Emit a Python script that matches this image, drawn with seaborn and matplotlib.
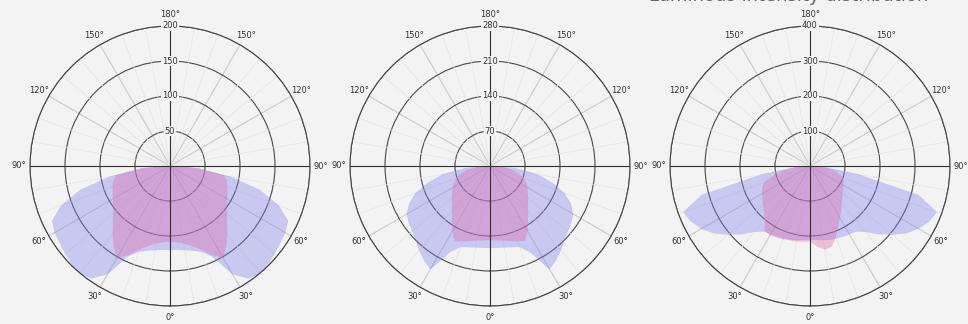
import matplotlib
matplotlib.use("Agg")
import matplotlib.pyplot as plt
import seaborn as sns
import numpy as np

# ── Data (cd/klm) ─────────────────────────────────────────────────────────────
GAMMA = [0, 5, 10, 15, 20, 25, 30, 35, 40, 45, 50, 55, 60, 65, 70, 75, 80, 85, 90]

RTICKS_1 = [50, 100, 150, 200]
RTICKS_2 = [70, 140, 210, 280]
RTICKS_3 = [100, 200, 300, 400]

# panel 1
BLUE_1 = [120, 120, 122, 125, 130, 142, 178, 196, 200, 198, 195, 192, 190, 186, 165, 133, 87, 40, 5]
PINK_1 = [108, 109, 112, 118, 126, 140, 152, 140, 127, 115, 106, 99, 94, 90, 87, 84, 78, 42, 5]

# panel 2
BLUE_2 = [164, 164, 165, 168, 172, 190, 238, 230, 220, 210, 203, 198, 192, 178, 158, 128, 95, 50, 5]
PINK_2 = [148, 149, 151, 155, 160, 165, 150, 132, 118, 107, 99, 92, 86, 80, 72, 60, 45, 25, 5]

# panel 3 (pink curve differs left / right)
BLUE_3 = [210, 212, 215, 218, 220, 222, 225, 228, 245, 275, 305, 335, 358, 375, 385, 320, 140, 45, 5]
PINK_3_L = [215, 216, 218, 220, 222, 225, 228, 225, 200, 185, 175, 165, 158, 150, 140, 110, 75, 35, 5]
PINK_3_R = [215, 230, 242, 238, 215, 190, 170, 155, 140, 130, 120, 115, 110, 105, 100, 85, 65, 35, 5]

ANGLE_TICKS = [0, 30, 60, 90, 120, 150, 180, 210, 240, 270, 300, 330]
ANGLE_LABELS = ["0°", "30°", "60°", "90°", "120°", "150°", "180°",
                "150°", "120°", "90°", "60°", "30°"]

TITLE = "Luminous intensity distribution"

BG = "#f3f3f3"
BLUE = "#7c7cec"
PINK = "#e070b4"

sns.set_theme(style="white")
plt.rcParams["font.family"] = ["DejaVu Sans"]

fig = plt.figure(figsize=(9.68, 3.24), dpi=100, facecolor=BG)

W, H = 968, 324
R_PX = 140
CENTERS = [170, 490, 810]
CY = 166


def closed_curve(right, left):
    """Right side gamma 90 -> 0, then left side 0 -> 90 (theta = 360 - gamma)."""
    g = np.array(GAMMA, dtype=float)
    th = np.concatenate([np.deg2rad(g[::-1]), np.deg2rad(360 - g[1:])])
    r = np.concatenate([np.array(right, float)[::-1], np.array(left, float)[1:]])
    th = np.concatenate([[np.deg2rad(90)], th, [np.deg2rad(270)]])
    r = np.concatenate([[0], r, [0]])
    return th, r


panels = [
    (RTICKS_1, BLUE_1, BLUE_1, PINK_1, PINK_1),
    (RTICKS_2, BLUE_2, BLUE_2, PINK_2, PINK_2),
    (RTICKS_3, BLUE_3, BLUE_3, PINK_3_R, PINK_3_L),
]

for cx, (rticks, b_r, b_l, p_r, p_l) in zip(CENTERS, panels):
    rect = [(cx - R_PX) / W, (H - CY - R_PX) / H, 2 * R_PX / W, 2 * R_PX / H]
    ax = fig.add_axes(rect, projection="polar")
    ax.set_facecolor(BG)
    ax.set_theta_zero_location("S")
    rmax = rticks[-1]

    # faint minor radial lines every 10 deg
    for a in range(0, 360, 10):
        if a % 30:
            ax.plot([np.deg2rad(a)] * 2, [0, rmax], color="#e4e4e4", lw=0.5, zorder=1)

    # filled intensity curves
    th, r = closed_curve(b_r, b_l)
    ax.fill(th, r, color=BLUE, alpha=0.36, lw=0, zorder=2)
    sns.lineplot(x=th, y=r, sort=False, ax=ax, color=BLUE, lw=0.3, alpha=0.25, zorder=2)
    th, r = closed_curve(p_r, p_l)
    ax.fill(th, r, color=PINK, alpha=0.4, lw=0, zorder=3)
    sns.lineplot(x=th, y=r, sort=False, ax=ax, color=PINK, lw=0.3, alpha=0.25, zorder=3)

    # main axes lines
    for a in [0, 90, 180, 270]:
        ax.plot([np.deg2rad(a)] * 2, [0, rmax], color="#333333", lw=0.8, zorder=4)

    ax.set_ylim(0, rmax)
    ax.set_yticks(rticks)
    ax.set_yticklabels([])
    ax.yaxis.grid(True, color="#4a4a4a", lw=0.8, zorder=4)
    ax.set_thetagrids(ANGLE_TICKS, ANGLE_LABELS)
    ax.xaxis.grid(True, color="#cbcbcb", lw=0.8)
    ax.tick_params(axis="x", pad=-5, labelsize=6, colors="#333333")
    ax.spines["polar"].set_color("#444444")
    ax.spines["polar"].set_linewidth(0.8)
    ax.set_xlabel("")
    ax.set_ylabel("")

    for v in rticks:
        ax.text(np.pi, v, str(v), ha="center", va="center", fontsize=6,
                color="#333333", zorder=6,
                bbox=dict(boxstyle="square,pad=0.1", fc=BG, ec="none"))

fig.text(0.815, 1.012, TITLE, ha="center", va="center", fontsize=13, color="#666666")

fig.savefig("out.png", dpi=100, facecolor=BG)
